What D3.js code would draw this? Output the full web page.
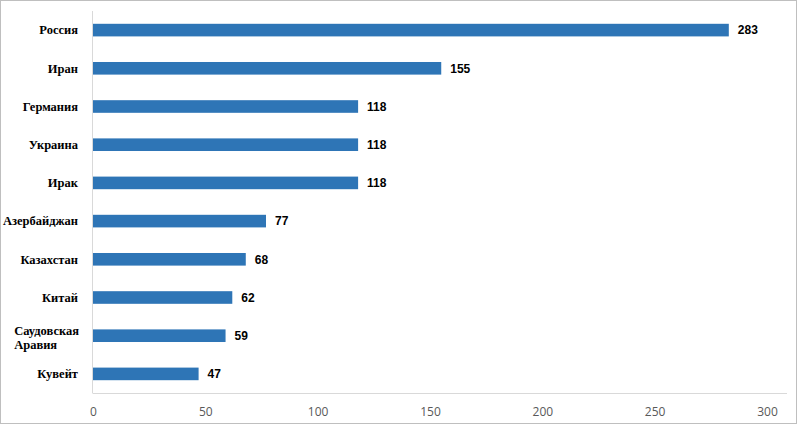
<!DOCTYPE html>
<html><head><meta charset="utf-8">
<script src="https://cdn.jsdelivr.net/npm/d3@7"></script>
<style>body{margin:0;background:#fff;} svg{display:block;}</style>
</head><body>
<script>
const categories = ["Россия","Иран","Германия","Украина","Ирак","Азербайджан","Казахстан","Китай","Саудовская\nАравия","Кувейт"];
const values = [283,155,118,118,118,77,68,62,59,47];
const ticks = [0,50,100,150,200,250,300];

const W=797,H=424;
const svg=d3.select("body").append("svg").attr("width",W).attr("height",H);
svg.append("rect").attr("x",0.5).attr("y",0.5).attr("width",W-1).attr("height",H-1).attr("fill","#fff").attr("stroke","#bfbfbf");

const x=d3.scaleLinear().domain([0,300]).range([93,767]);
const y=d3.scaleBand().domain(categories).range([11,393]).paddingInner(0.67).paddingOuter(0.335);

svg.append("line").attr("x1",x(0)).attr("x2",787).attr("y1",393.5).attr("y2",393.5).attr("stroke","#d9d9d9");
svg.append("line").attr("x1",x(0)-0.5).attr("x2",x(0)-0.5).attr("y1",11).attr("y2",393.5).attr("stroke","#d9d9d9");

const xAxis=d3.axisBottom(x).tickValues(ticks).tickSize(0).tickPadding(0);
const gx=svg.append("g").attr("transform","translate(0,407)").call(xAxis);
gx.select(".domain").remove();
gx.selectAll("text").attr("font-family","'Open Sans',sans-serif").attr("font-size","12px").attr("fill","#595959");

svg.selectAll("rect.bar").data(values).enter().append("rect").attr("class","bar")
 .attr("x",x(0)).attr("y",(d,i)=>y(categories[i])).attr("width",d=>x(d)-x(0)).attr("height",y.bandwidth()).attr("fill","#2E75B6");

svg.selectAll("text.val").data(values).enter().append("text").attr("class","val")
 .attr("x",d=>x(d)+9).attr("y",(d,i)=>y(categories[i])+y.bandwidth()/2).attr("dy","0.35em")
 .attr("font-family","'Liberation Sans',Arial,sans-serif").attr("font-weight","bold").attr("font-size","12px").attr("fill","#000").text(d=>d);

categories.forEach(c=>{
  const lines=c.split("\n");
  const cy=y(c)+y.bandwidth()/2;
  const t=svg.append("text").attr("font-family","'Liberation Serif','Times New Roman',serif").attr("font-weight","bold").attr("font-size","12.5px").attr("fill","#000");
  if(lines.length===1){
    t.attr("x",78).attr("y",cy).attr("dy","0.35em").attr("text-anchor","end").text(c);
  } else {
    const tmp=t.append("tspan").text(lines[0]);
    const w=tmp.node().getComputedTextLength();
    tmp.remove();
    const x0=79-w;
    lines.forEach((l,i)=>{
      t.append("tspan").attr("x",x0).attr("y",cy-5+i*14).attr("dy","0.35em").text(l);
    });
  }
});
</script>
</body></html>
